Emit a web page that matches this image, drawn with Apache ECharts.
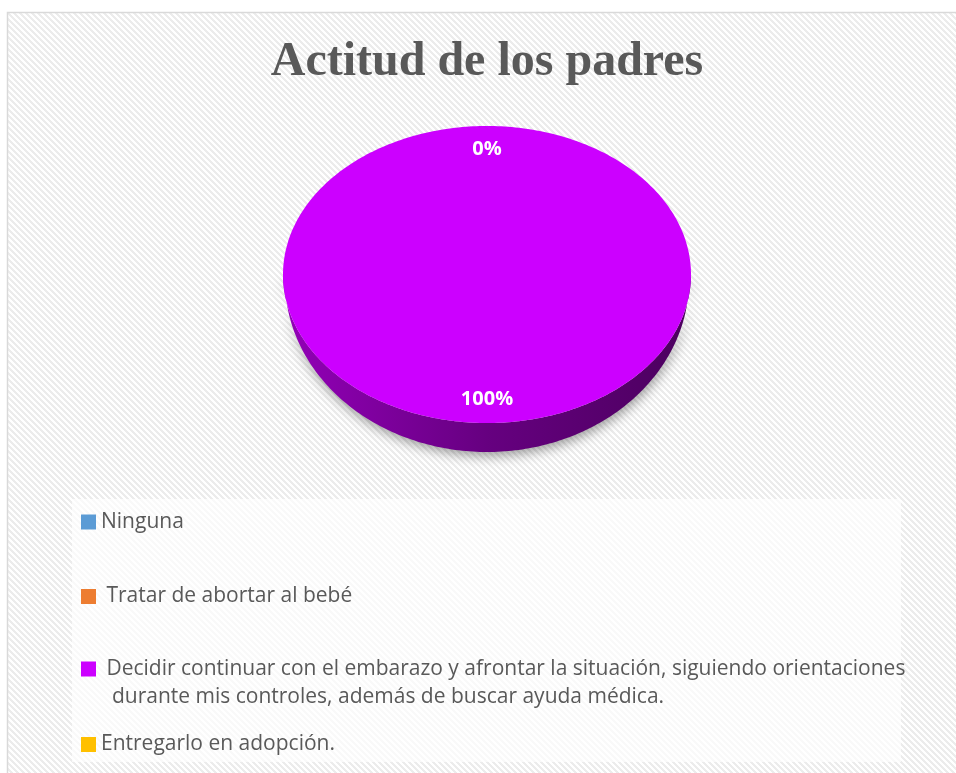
<!DOCTYPE html>
<html>
<head>
<meta charset="utf-8">
<script src="https://cdn.jsdelivr.net/npm/echarts@6/dist/echarts.min.js"></script>
<style>
  html, body { margin: 0; padding: 0; background: #ffffff; }
  #chart { width: 956px; height: 773px; }
</style>
</head>
<body>
<div id="chart"></div>
<script>
// Chart data
const titleText = 'Actitud de los padres';
const categories = [
  'Ninguna',
  ' Tratar de abortar al bebé',
  ' Decidir continuar con el embarazo y afrontar la situación, siguiendo orientaciones durante mis controles, además de buscar ayuda médica.',
  'Entregarlo en adopción.'
];
const legendLabels = [
  'Ninguna',
  ' Tratar de abortar al bebé',
  ' Decidir continuar con el embarazo y afrontar la situación, siguiendo orientaciones\n  durante mis controles, además de buscar ayuda médica.',
  'Entregarlo en adopción.'
];
const values = [0, 0, 100, 0];
const colors = ['#5b9bd5', '#ed7d31', '#cc00ff', '#ffc000'];

// Pie layout (top face ellipse and the lower rim ellipse of the 3D wall)
const PIE = { cx: 487, cy: 274.5, rx: 204, ry: 148.5, bcy: 280.5, brx: 202, bry: 171.5, labelR: 0.84 };

function shade(hex, f) {
  const n = parseInt(hex.slice(1), 16);
  const r = Math.round(((n >> 16) & 255) * f);
  const g = Math.round(((n >> 8) & 255) * f);
  const b = Math.round((n & 255) * f);
  return 'rgb(' + r + ',' + g + ',' + b + ')';
}

// Diagonal hatch tile for the chart area
const tile = document.createElement('canvas');
tile.width = 6; tile.height = 6;
const tg = tile.getContext('2d');
tg.fillStyle = '#ffffff'; tg.fillRect(0, 0, 6, 6);
tg.fillStyle = '#ececec';
for (let y = 0; y < 6; y++) {
  for (let x = 0; x < 6; x++) {
    if ((((x - y) % 6) + 6) % 6 < 3) tg.fillRect(x, y, 1, 1);
  }
}

const total = values.reduce((a, b) => a + b, 0);

function sliceAngles(i) {
  const before = values.slice(0, i).reduce((a, b) => a + b, 0);
  return [before / total * 2 * Math.PI, (before + values[i]) / total * 2 * Math.PI];
}

function labelInfo(i) {
  const [a0, a1] = sliceAngles(i);
  const mid = (a0 + a1) / 2;
  const x = PIE.cx + PIE.rx * PIE.labelR * Math.sin(mid);
  const y = PIE.cy - PIE.ry * PIE.labelR * Math.cos(mid);
  const text = Math.round(values[i] / total * 100) + '%';
  return { x, y, text, key: text + '@' + Math.round(x) + ',' + Math.round(y) };
}

function renderSlice(params, api) {
  const i = params.seriesIndex;
  const v = api.value(0);
  const [a0, a1] = sliceAngles(i);
  const topPt = t => [PIE.cx + PIE.rx * Math.sin(t), PIE.cy - PIE.ry * Math.cos(t)];
  const botPt = t => [PIE.cx + PIE.brx * Math.sin(t), PIE.bcy - PIE.bry * Math.cos(t)];
  const children = [];

  if (v > 0) {
    // front wall (visible between 3 and 9 o'clock)
    const s0 = Math.max(a0, Math.PI / 2);
    const s1 = Math.min(a1, 3 * Math.PI / 2);
    if (s1 > s0) {
      const m = Math.max(2, Math.ceil((s1 - s0) / (Math.PI / 180)));
      const up = [], down = [];
      for (let k = 0; k <= m; k++) {
        const t = s0 + (s1 - s0) * k / m;
        up.push(topPt(t));
        down.push(botPt(t));
      }
      const base = colors[i];
      children.push({
        type: 'polygon',
        z2: 1,
        shape: { points: up.concat(down.reverse()) },
        style: {
          fill: {
            type: 'linear', x: 0, y: 0, x2: 1, y2: 0,
            colorStops: [
              { offset: 0, color: shade(base, 0.72) },
              { offset: 0.5, color: shade(base, 0.5) },
              { offset: 1, color: shade(base, 0.37) }
            ]
          },
          shadowBlur: 12,
          shadowColor: 'rgba(0,0,0,0.38)',
          shadowOffsetY: 4,
          shadowOffsetX: 1
        }
      });
    }
    // top face
    const n = Math.max(2, Math.ceil((a1 - a0) / (Math.PI / 180)));
    const arc = [];
    for (let k = 0; k <= n; k++) arc.push(topPt(a0 + (a1 - a0) * k / n));
    const full = v >= total;
    children.push({
      type: 'polygon',
      z2: 5,
      shape: { points: full ? arc : [[PIE.cx, PIE.cy]].concat(arc) },
      style: { fill: colors[i] }
    });
  }

  // percentage label (identical labels stacked on the same spot are drawn once)
  const lab = labelInfo(i);
  let drawnLater = false;
  for (let j = i + 1; j < values.length; j++) {
    if (labelInfo(j).key === lab.key) drawnLater = true;
  }
  if (!drawnLater) {
    children.push({
      type: 'text',
      z2: 20,
      x: lab.x,
      y: lab.y,
      style: {
        text: lab.text,
        fill: '#ffffff',
        fontFamily: 'Open Sans',
        fontWeight: 'bold',
        fontSize: 20,
        align: 'center',
        verticalAlign: 'middle'
      }
    });
  }
  return { type: 'group', children: children };
}

// Legend rows: the icon sits beside the first line of each label
const legendTops = [508, 582.5, 627, 730.5];

const option = {
  animation: false,
  graphic: [
    {
      type: 'rect', z: -10, silent: true,
      shape: { x: 7.5, y: 12.5, width: 960, height: 780 },
      style: { fill: { image: tile, repeat: 'repeat' }, stroke: '#d9d9d9', lineWidth: 1.5 }
    },
    {
      type: 'rect', z: -5, silent: true,
      shape: { x: 72, y: 499, width: 829, height: 263 },
      style: { fill: 'rgba(255,255,255,0.7)' }
    },
    {
      type: 'text', z: 10, silent: true,
      x: 487, y: 63,
      style: {
        text: titleText,
        fill: '#595959',
        fontFamily: 'Liberation Serif',
        fontWeight: 'bold',
        fontSize: 48,
        align: 'center',
        verticalAlign: 'middle'
      }
    }
  ],
  legend: categories.map((name, i) => ({
    data: [name],
    left: 81,
    top: legendTops[i],
    orient: 'vertical',
    padding: 0,
    icon: 'rect',
    itemWidth: 15,
    itemHeight: 15,
    selectedMode: false,
    // a leading blank line keeps the icon level with the first text line
    formatter: () => (legendLabels[i].indexOf('\n') >= 0 ? '\n' : '') + legendLabels[i],
    textStyle: {
      fontFamily: 'Open Sans',
      fontSize: 21,
      color: '#595959',
      lineHeight: 28
    }
  })),
  series: categories.map((name, i) => ({
    type: 'custom',
    name: name,
    coordinateSystem: 'none',
    itemStyle: { color: colors[i] },
    renderItem: renderSlice,
    data: [[values[i]]]
  }))
};

const chart = echarts.init(document.getElementById('chart'), null, { renderer: 'canvas' });
chart.setOption(option);
</script>
</body>
</html>
